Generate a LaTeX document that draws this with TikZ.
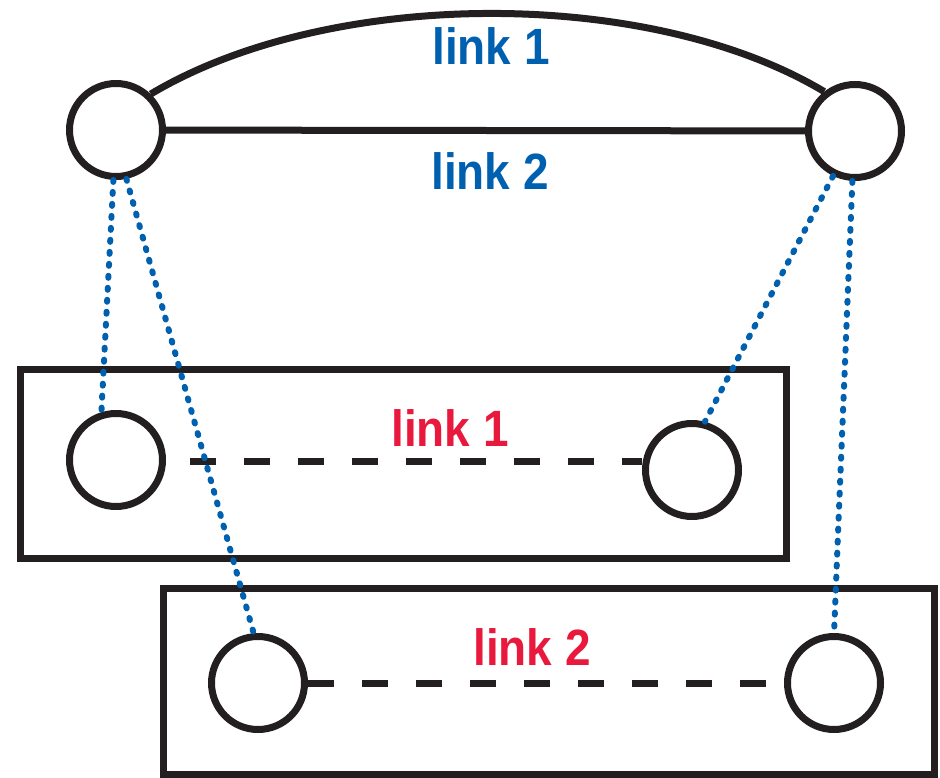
\documentclass[tikz,border=0pt]{standalone}
\usepackage{fontspec}
\usepackage{graphicx}
\setmainfont{Liberation Sans}
\definecolor{lblue}{HTML}{0060B0}
\definecolor{lred}{HTML}{E8193C}
\definecolor{ink}{HTML}{231F20}
\tikzset{
  dev/.style={circle, draw=ink, line width=7pt, minimum size=93pt, inner sep=0pt, fill=white},
  frame/.style={draw=ink, line width=7pt},
  wire/.style={draw=ink, line width=7pt},
  vwire/.style={draw=ink, line width=7pt, dash pattern=on 26pt off 28pt},
  map/.style={draw=lblue, line width=6pt, line cap=round, dash pattern=on 2pt off 10pt},
  blab/.style={text=lblue, font=\fontsize{51}{51}\selectfont\bfseries, anchor=base, inner sep=0pt},
  rlab/.style={text=lred, font=\fontsize{51}{51}\selectfont\bfseries, anchor=base, inner sep=0pt},
}
\newcommand{\cond}[1]{\scalebox{0.9}[1]{#1}}
\begin{document}
\begin{tikzpicture}[x=1pt,y=-1pt]
\useasboundingbox (0,0) rectangle (940,778);
% frames
\draw[frame] (20.5,369.5) rectangle (786.5,558.5);
\draw[frame] (163.5,588.5) rectangle (934.5,774.5);
% mappings (drawn below the devices)
\coordinate (tlc) at (116,130);
\coordinate (trc) at (855,131);
% physical nodes
\node[dev] (tl) at (tlc) {};
\node[dev] (tr) at (trc) {};
% virtual nodes
\node[dev] (al) at (116,460) {};
\node[dev] (ar) at (692,470) {};
\node[dev] (bl) at (258,683) {};
\node[dev] (br) at (834,683) {};
% physical links
\draw[wire] (tl.46) .. controls (330,-13) and (650,-13) .. (tr.128);
\draw[wire] (tl) -- (tr);
% virtual links
\draw[vwire] (190,461) -- (ar.west |- 0,461);
\draw[vwire] (bl.east) -- (br.west);
% mappings
\draw[map] (tl.-93) -- (al.107);
\draw[map] (tl.-78) -- (bl.95);
\draw[map] (tr.-116) -- (ar.75);
\draw[map] (tr.-93) -- (br.90);
% labels
\node[blab] (t1) at (491,65) {\cond{link 1}};
\node[blab] (t2) at (490,190) {\cond{link 2}};
\node[rlab] (r1) at (450,446) {\cond{link 1}};
\node[rlab] (r2) at (532,665) {\cond{link 2}};
\end{tikzpicture}
\end{document}
